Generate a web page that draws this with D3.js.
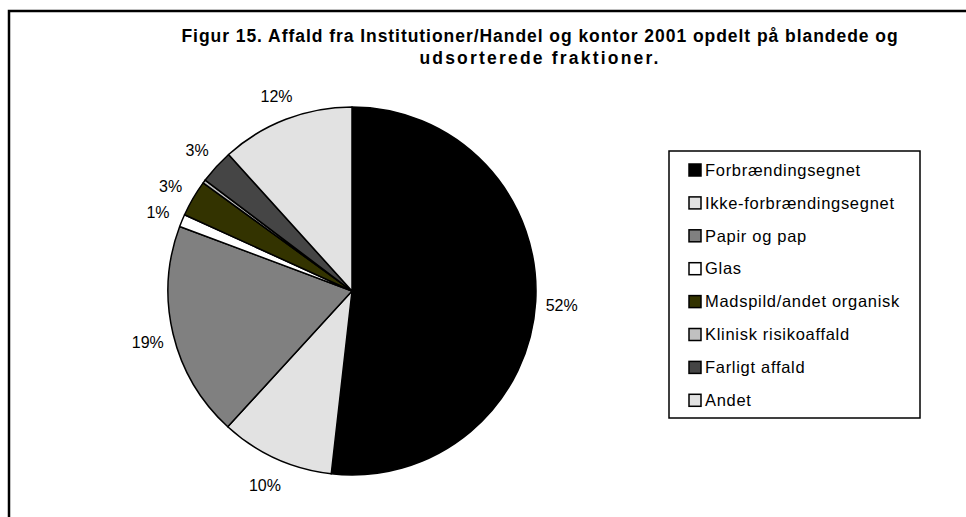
<!DOCTYPE html>
<html>
<head>
<meta charset="utf-8">
<script src="https://cdn.jsdelivr.net/npm/d3@7"></script>
<style>
  body { margin: 0; background: #fff; }
  text { font-family: "Liberation Sans", Arial, sans-serif; }
</style>
</head>
<body>
<svg id="chart" width="966" height="517"></svg>
<script>
var width = 966;
var height = 517;

var titleLines = ['Figur 15. Affald fra Institutioner/Handel og kontor 2001 opdelt på blandede og',
                  'udsorterede fraktioner.'];

var categories = ['Forbrændingsegnet', 'Ikke-forbrændingsegnet', 'Papir og pap', 'Glas',
                  'Madspild/andet organisk', 'Klinisk risikoaffald', 'Farligt affald', 'Andet'];
var values = [51.8, 10.0, 18.9, 1.1, 3.2, 0.3, 3.0, 11.7];
var colors = ['#000000', '#e2e2e2', '#808080', '#ffffff', '#333300', '#c0c0c0', '#454545', '#e2e2e2'];

var data = categories.map(function(c, i) {
    return { name: c, value: values[i], color: colors[i] };
});

var svg = d3.select('#chart');

// chart frame
svg.append('rect')
    .attr('x', 9).attr('y', 11)
    .attr('width', 980).attr('height', 530)
    .attr('fill', 'none')
    .attr('stroke', '#000')
    .attr('stroke-width', 2.5);

// title (letter spacing mimics the wide old screen rendering)
var titleSpacing = [0.95, 2.2];
svg.append('g').selectAll('text')
    .data(titleLines)
    .join('text')
    .attr('x', 540)
    .attr('y', function(d, i) { return 42 + i * 22; })
    .attr('text-anchor', 'middle')
    .attr('font-size', 17.5)
    .attr('font-weight', 'bold')
    .attr('letter-spacing', function(d, i) { return titleSpacing[i]; })
    .text(function(d) { return d; });

var cx = 352, cy = 291, radius = 184;

var pie = d3.pie()
    .sort(null)
    .value(function(d) { return d.value; });

var arc = d3.arc().innerRadius(0).outerRadius(radius);
var labelArc = d3.arc().innerRadius(radius + 15).outerRadius(radius + 15);

var total = d3.sum(values);
var arcs = pie(data);

var g = svg.append('g').attr('transform', 'translate(' + cx + ',' + cy + ')');

g.selectAll('path')
    .data(arcs)
    .join('path')
    .attr('d', arc)
    .attr('fill', function(d) { return d.data.color; })
    .attr('stroke', '#000')
    .attr('stroke-width', 1.5)
    .attr('stroke-linejoin', 'round');

g.selectAll('text.pct')
    .data(arcs.filter(function(d) { return d.data.value / total >= 0.005; }))
    .join('text')
    .attr('class', 'pct')
    .attr('transform', function(d) {
        var p = labelArc.centroid(d);
        var a = (d.startAngle + d.endAngle) / 2;
        var dx = Math.sin(a) * 11, dy = -Math.cos(a) * 12 + 2;
        return 'translate(' + (p[0] + dx) + ',' + (p[1] + dy) + ')';
    })
    .attr('text-anchor', 'middle')
    .attr('dy', '0.35em')
    .attr('font-size', 16)
    .text(function(d) { return Math.round(d.data.value / total * 100) + '%'; });

// legend
var legend = svg.append('g').attr('transform', 'translate(669,151)');
legend.append('rect')
    .attr('width', 251).attr('height', 267)
    .attr('fill', '#fff')
    .attr('stroke', '#000')
    .attr('stroke-width', 1.5);

var item = legend.selectAll('g.item')
    .data(data)
    .join('g')
    .attr('class', 'item')
    .attr('transform', function(d, i) { return 'translate(20,' + (19 + i * 32.9) + ')'; });

item.append('rect')
    .attr('x', 0).attr('y', -6)
    .attr('width', 12).attr('height', 12)
    .attr('fill', function(d) { return d.color; })
    .attr('stroke', '#000')
    .attr('stroke-width', 1.5);

item.append('text')
    .attr('x', 16)
    .attr('dy', '0.35em')
    .attr('font-size', 16.5)
    .attr('letter-spacing', 0.7)
    .text(function(d) { return d.name; });
</script>
</body>
</html>
